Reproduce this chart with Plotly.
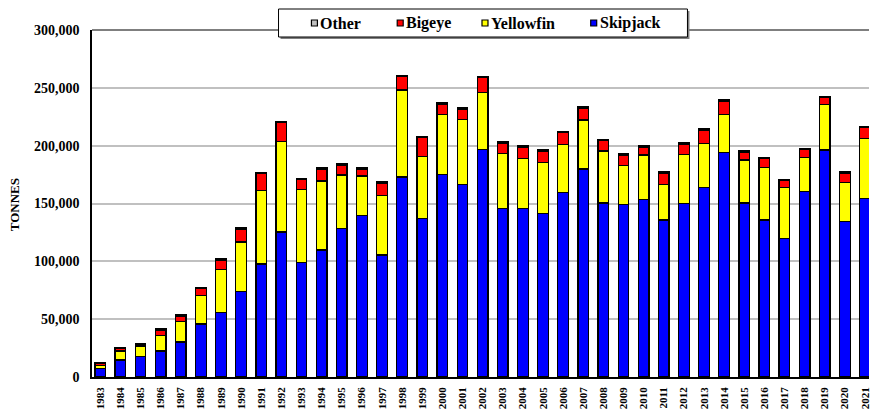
import plotly.graph_objects as go

# Purse-seine catch by species, 1983-2021 (tonnes)
years = [str(y) for y in range(1983, 2022)]

skipjack = [7500, 14700, 17600, 22500, 30300, 45800, 55900, 73800, 97700, 125400,
            98900, 109800, 128300, 139500, 105500, 172900, 136900, 175200, 166300, 196800,
            145800, 145800, 141500, 159400, 179800, 150400, 149300, 153600, 135700, 150200,
            164000, 194000, 150400, 135700, 119900, 160500, 196300, 134600, 154500]

yellowfin = [2600, 7800, 8900, 13500, 17800, 24800, 36900, 42900, 63700, 78100,
             63100, 59700, 46400, 34300, 51600, 75300, 53900, 51600, 56200, 49300,
             47300, 43000, 43800, 41500, 42400, 45000, 33400, 38400, 30600, 42000,
             38000, 32800, 37200, 45300, 44100, 29100, 39500, 33700, 51900]

bigeye = [1400, 2000, 1200, 4400, 4700, 5800, 8100, 11000, 14700, 16400,
          8600, 10100, 8600, 6100, 10400, 11500, 16200, 9300, 9200, 12700,
          9200, 10100, 10100, 10400, 10400, 9000, 9300, 6900, 10100, 9000,
          11600, 11600, 7000, 7800, 5800, 7000, 6000, 8100, 9200]

other = [1200, 1000, 1200, 1000, 1000, 1000, 1000, 1000, 1000, 1000,
         1000, 1000, 1000, 1000, 1000, 1000, 1000, 1000, 1000, 1000,
         1000, 1000, 1000, 1000, 1000, 1000, 1000, 1000, 1000, 1000,
         1000, 1000, 1000, 1000, 1000, 1000, 1000, 1000, 1000]

series = [
    ("Skipjack", skipjack, "#0000FF"),
    ("Yellowfin", yellowfin, "#FFFF00"),
    ("Bigeye", bigeye, "#FF0000"),
    ("Other", other, "#C0C0C0"),
]

SERIF = "Liberation Serif"
W, H = 871, 414
ML, MR, MT, MB = 92, 0, 30, 37
PW, PH = W - ML - MR, H - MT - MB

fig = go.Figure()
for name, vals, col in series:
    fig.add_trace(go.Bar(
        x=years, y=vals, name=name,
        marker=dict(color=col, line=dict(color="#000000", width=1.3)),
        showlegend=False,
    ))


def px_x(px):
    return (px - ML) / PW


def px_y(py):
    return (H - MB - py) / PH


shapes = [
    # frame line along the top of the plot area
    dict(type="line", xref="paper", yref="paper", x0=0, x1=1, y0=1, y1=1,
         line=dict(color="#555555", width=1.5), layer="above"),
    # legend box shadow and box
    dict(type="rect", xref="paper", yref="paper",
         x0=px_x(281), x1=px_x(691), y0=px_y(39), y1=px_y(11),
         fillcolor="#808080", line=dict(width=0), layer="above"),
    dict(type="rect", xref="paper", yref="paper",
         x0=px_x(279), x1=px_x(689), y0=px_y(37), y1=px_y(9),
         fillcolor="#FFFFFF", line=dict(color="#000000", width=1), layer="above"),
]
annotations = []

legend_items = [("Other", "#C0C0C0", 312), ("Bigeye", "#FF0000", 398),
                ("Yellowfin", "#FFFF00", 483), ("Skipjack", "#0000FF", 592)]
for label, col, sx in legend_items:
    shapes.append(dict(type="rect", xref="paper", yref="paper",
                       x0=px_x(sx), x1=px_x(sx + 6), y0=px_y(26), y1=px_y(20),
                       fillcolor=col, line=dict(color="#000000", width=1.2), layer="above"))
    annotations.append(dict(xref="paper", yref="paper", x=px_x(sx + 7), y=px_y(23),
                            xanchor="left", yanchor="middle", showarrow=False,
                            text=label,
                            font=dict(family=SERIF, size=16, color="#000000", weight="bold")))

annotations.append(dict(xref="paper", yref="paper", x=px_x(14), y=px_y(205),
                        xanchor="center", yanchor="middle", showarrow=False,
                        text="TONNES", textangle=-90,
                        font=dict(family=SERIF, size=13, color="#000000", weight="bold")))

fig.update_layout(
    width=W, height=H, autosize=False,
    margin=dict(l=ML, r=MR, t=MT, b=MB, pad=0),
    barmode="stack", bargap=0.47,
    paper_bgcolor="#FFFFFF", plot_bgcolor="#FFFFFF",
    shapes=shapes, annotations=annotations,
    xaxis=dict(
        type="category", range=[-0.41, 38.2],
        showgrid=False, showline=True, linecolor="#000000", linewidth=1.5,
        ticks="outside", ticklen=4, tickcolor="rgba(0,0,0,0)", tickangle=-90,
        tickfont=dict(family=SERIF, size=11, color="#000000", weight="bold"),
    ),
    yaxis=dict(
        range=[0, 300000], dtick=50000, tickformat=",",
        showgrid=True, gridcolor="#C0C0C0", gridwidth=1.5, zeroline=False,
        showline=True, linecolor="#000000", linewidth=1.5,
        ticks="", ticklabelstandoff=8,
        tickfont=dict(family=SERIF, size=14, color="#000000", weight="bold"),
    ),
)

fig.write_html("out.html")
